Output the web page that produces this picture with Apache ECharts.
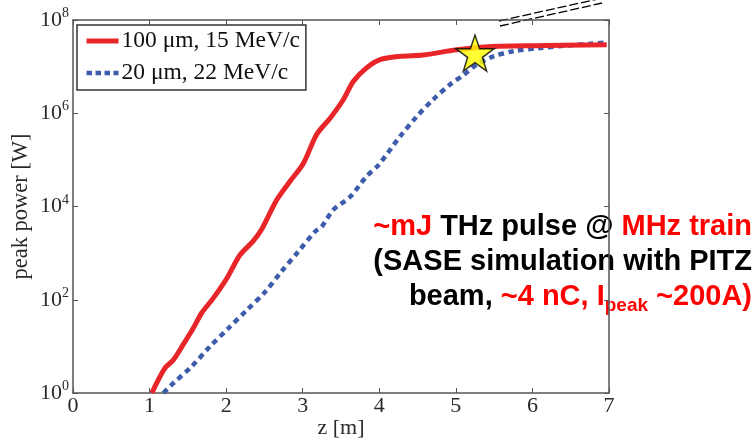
<!DOCTYPE html>
<html>
<head>
<meta charset="utf-8">
<script src="https://cdn.jsdelivr.net/npm/echarts@6/dist/echarts.min.js"></script>
<style>
html,body{margin:0;padding:0;background:#fff;}
#c{width:756px;height:446px;}
</style>
</head>
<body>
<div id="c"></div>
<script>
// z [m] and peak power [W]
var redZ = [1.03, 1.20, 1.31, 1.44, 1.57, 1.68, 1.83, 2.01, 2.18, 2.35, 2.46, 2.66, 2.83, 3.01, 3.18, 3.36, 3.53, 3.66, 3.83, 4.01, 4.27, 4.57, 5.01, 5.48, 6.01, 6.97];
var redP = [1, 3.4, 5.1, 11, 24.5, 52, 107, 290, 910, 1780, 3160, 13800, 33900, 85000, 347000, 794000, 1.95e6, 4.8e6, 9.3e6, 1.41e7, 1.66e7, 1.78e7, 2.29e7, 2.69e7, 2.82e7, 2.95e7];
var blueZ = [1.18, 1.31, 1.55, 1.79, 2.03, 2.27, 2.51, 2.72, 2.94, 3.16, 3.25, 3.40, 3.62, 3.83, 3.99, 4.27, 4.49, 4.70, 4.92, 5.10, 5.27, 5.49, 5.75, 6.10, 6.44, 6.75, 6.97];
var blueP = [1, 1.62, 3.7, 10, 24.5, 60, 148, 398, 1070, 2880, 3720, 8500, 16200, 43700, 77600, 316000, 851000, 1.95e6, 4.07e6, 6.6e6, 1.1e7, 1.66e7, 2.14e7, 2.51e7, 2.82e7, 3.09e7, 3.31e7];
var starPoint = [5.25, 1.95e7];
var seriesNames = ['100 \u03bcm, 15 MeV/c', '20 \u03bcm, 22 MeV/c'];
var xTicks = [0, 1, 2, 3, 4, 5, 6, 7];
var yExponents = [0, 2, 4, 6, 8];

function zip(a, b) { return a.map(function (v, i) { return [v, b[i]]; }); }

var serif = 'Liberation Serif';
var axisColor = '#555';
var labelColor = '#2a2a2a';
var redC = '#e8262a', blueC = '#3d5cab';
var starPath = 'path://M50,0 L61.8,35.1 L98.1,35.1 L68.8,56.8 L79.4,91.9 L50,70.2 L20.6,91.9 L31.2,56.8 L1.9,35.1 L38.2,35.1 Z';

var chart = echarts.init(document.getElementById('c'), null, {renderer: 'canvas'});
var yLabelRich = {
  b: {fontFamily: serif, fontSize: 22, color: labelColor},
  s: {fontFamily: serif, fontSize: 14, color: labelColor, verticalAlign: 'top', padding: [0, 0, 13, 0]}
};
var annoFont = 'bold 29px "Liberation Sans"';
var red = {font: annoFont, fill: '#ff0000'};
var blk = {font: annoFont, fill: '#000000'};
var option = {
  animation: false,
  backgroundColor: '#fff',
  grid: {left: 73, right: 147, top: 20, bottom: 53, containLabel: false, outerBoundsMode: 'none'},
  legend: {
    data: [
      {name: seriesNames[0], lineStyle: {width: 5, color: redC}},
      {name: seriesNames[1], lineStyle: {width: 4.5, color: blueC, type: [5.5, 3.5]}}
    ],
    orient: 'vertical',
    left: 77, top: 25,
    padding: [4, 6, 5, 7],
    itemGap: 8,
    itemWidth: 32, itemHeight: 24,
    borderColor: '#333', borderWidth: 1.5,
    backgroundColor: '#fff',
    itemStyle: {opacity: 0},
    textStyle: {fontFamily: serif, fontSize: 23.5, color: '#111', padding: [0, 0, 0, -2]}
  },
  xAxis: [{
    type: 'value', min: 0, max: 7, interval: 1,
    name: 'z [m]', nameLocation: 'middle', nameGap: 24, nameMoveOverlap: false,
    nameTextStyle: {fontFamily: serif, fontSize: 22, color: labelColor},
    axisLine: {show: true, onZero: false, lineStyle: {color: axisColor, width: 1.5}},
    axisTick: {show: true, inside: true, length: 5, lineStyle: {color: axisColor}},
    axisLabel: {fontFamily: serif, fontSize: 22, color: labelColor, margin: 2,
      formatter: function (v) { return xTicks.indexOf(v) >= 0 ? String(v) : ''; }},
    splitLine: {show: false}
  }, {
    type: 'value', min: 0, max: 7, interval: 1, position: 'top',
    axisLine: {show: true, onZero: false, lineStyle: {color: axisColor, width: 1.5}},
    axisTick: {show: true, inside: true, length: 5, lineStyle: {color: axisColor}},
    axisLabel: {show: false}, splitLine: {show: false}
  }],
  yAxis: [{
    type: 'log', logBase: 10, min: 1, max: 1e8, interval: 2,
    name: 'peak power [W]', nameLocation: 'middle', nameGap: 40, nameRotate: 90, nameMoveOverlap: false,
    nameTextStyle: {fontFamily: serif, fontSize: 22.5, color: labelColor},
    axisLine: {show: true, onZero: false, lineStyle: {color: axisColor, width: 1.5}},
    axisTick: {show: true, inside: true, length: 5, lineStyle: {color: axisColor}},
    minorTick: {show: false},
    axisLabel: {margin: 4, rich: yLabelRich,
      formatter: function (v) {
        var e = Math.round(Math.log10(v));
        return yExponents.indexOf(e) >= 0 ? '{b|10}{s|' + e + '}' : '';
      }},
    splitLine: {show: false}
  }, {
    type: 'log', logBase: 10, min: 1, max: 1e8, interval: 2, position: 'right',
    axisLine: {show: true, onZero: false, lineStyle: {color: axisColor, width: 1.5}},
    axisTick: {show: true, inside: true, length: 5, lineStyle: {color: axisColor}},
    axisLabel: {show: false}, splitLine: {show: false}
  }],
  series: [{
    name: seriesNames[0], type: 'line', xAxisIndex: 0, yAxisIndex: 0,
    data: zip(redZ, redP), symbol: 'none', smooth: 0.3,
    lineStyle: {color: redC, width: 5, cap: 'butt'},
    itemStyle: {color: redC}, z: 3
  }, {
    name: seriesNames[1], type: 'line', xAxisIndex: 0, yAxisIndex: 0,
    data: zip(blueZ, blueP), symbol: 'none', smooth: 0.3,
    lineStyle: {color: blueC, width: 4.5, type: [5.5, 4.5], cap: 'butt'},
    itemStyle: {color: blueC}, z: 2
  }, {
    name: 'star', type: 'scatter', xAxisIndex: 0, yAxisIndex: 0,
    data: [starPoint], symbol: starPath, symbolSize: [38, 36],
    itemStyle: {color: '#ffff00', borderColor: '#000', borderWidth: 1.5}, z: 5
  }],
  graphic: [
    {type: 'line', shape: {x1: 499, y1: 21, x2: 598, y2: -1}, style: {stroke: '#000', lineWidth: 1.3, lineDash: [9, 3]}},
    {type: 'line', shape: {x1: 500, y1: 26, x2: 602, y2: 3}, style: {stroke: '#000', lineWidth: 1.3, lineDash: [9, 3]}},
    {type: 'text', right: 4, top: 212, style: {
      text: '{r|~mJ}{k| THz pulse @ }{r|MHz train}',
      rich: {r: red, k: blk}
    }},
    {type: 'text', right: 4, top: 247, style: {
      text: '{k|(SASE simulation with PITZ}',
      rich: {k: blk}
    }},
    {type: 'text', right: 4, top: 282, style: {
      text: '{k|beam, }{r|~4 nC, I}{sub|peak}{r| ~200A)}',
      rich: {r: red, k: blk,
             sub: {font: 'bold 19px "Liberation Sans"', fill: '#ff0000', padding: [18, 0, 0, 0]}}
    }}
  ]
};
chart.setOption(option);
</script>
</body>
</html>
